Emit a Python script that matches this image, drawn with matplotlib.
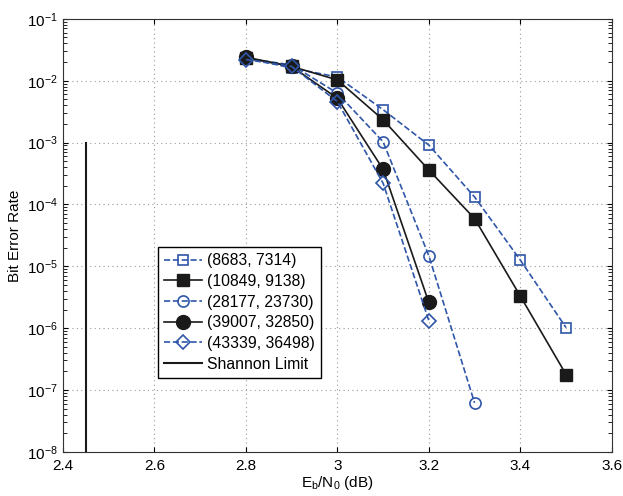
import matplotlib
matplotlib.use('Agg')
from matplotlib import pyplot as plt

plt.rcParams['font.family'] = ['Liberation Sans', 'DejaVu Sans']
plt.rcParams['mathtext.fontset'] = 'custom'
plt.rcParams['mathtext.rm'] = 'Liberation Sans'
plt.rcParams['mathtext.it'] = 'Liberation Sans'

blue = '#2f56a8'

ebn0 = [2.8, 2.9, 3.0, 3.1, 3.2, 3.3, 3.4, 3.5]
ber_8683 = [0.0234, 0.016, 0.0115, 0.0034, 0.00091, 0.000132, 1.26e-5, 1.02e-6]
ber_10849 = [0.0234, 0.017, 0.0103, 0.00234, 0.00036, 5.9e-5, 3.3e-6, 1.78e-7]
ebn0_28177 = [2.8, 2.9, 3.0, 3.1, 3.2, 3.3]
ber_28177 = [0.023, 0.018, 0.0063, 0.00103, 1.48e-5, 6.2e-8]
ebn0_short = [2.8, 2.9, 3.0, 3.1, 3.2]
ber_39007 = [0.024, 0.017, 0.0052, 0.00037, 2.6e-6]
ber_43339 = [0.022, 0.017, 0.0046, 0.00022, 1.32e-6]
shannon_x = [2.45, 2.45]
shannon_y = [1e-8, 1e-3]

fig = plt.figure(figsize=(6.23, 4.96), dpi=100)
ax = fig.add_axes([0.101, 0.089, 0.881, 0.873])

ax.semilogy(ebn0, ber_8683, '--s', color=blue, mfc='none', mec=blue, ms=7, lw=1.2, mew=1.2,
            label='(8683, 7314)')
ax.semilogy(ebn0, ber_10849, '-s', color='#1a1a1a', ms=8, lw=1.2, label='(10849, 9138)')
ax.semilogy(ebn0_28177, ber_28177, '--o', color=blue, mfc='none', mec=blue, ms=8, lw=1.2, mew=1.2,
            label='(28177, 23730)')
ax.semilogy(ebn0_short, ber_39007, '-o', color='#1a1a1a', ms=10, lw=1.2, label='(39007, 32850)')
ax.semilogy(ebn0_short, ber_43339, '--D', color=blue, mfc='none', mec=blue, ms=7, lw=1.2, mew=1.2,
            label='(43339, 36498)')
ax.semilogy(shannon_x, shannon_y, '-', color='#1a1a1a', lw=1.5, label='Shannon Limit')

ax.set_xlim(2.4, 3.6)
ax.set_ylim(1e-8, 1e-1)
ax.set_xticks([2.4, 2.6, 2.8, 3.0, 3.2, 3.4, 3.6])
ax.set_xticklabels(['2.4', '2.6', '2.8', '3', '3.2', '3.4', '3.6'])
ax.grid(True, which='major', linestyle=(0, (1, 3)), color='#999999', lw=0.8)
ax.tick_params(which='both', direction='in', top=True, right=True, labelsize=11)
ax.tick_params(axis='x', pad=5)
ax.tick_params(which='minor', length=3)
for s in ax.spines.values():
    s.set_color('#333333')
ax.set_xlabel('E$_\\mathrm{b}$/N$_\\mathrm{0}$ (dB)', fontsize=11, labelpad=1)
ax.set_ylabel('Bit Error Rate', fontsize=11)

leg = ax.legend(loc='lower left', bbox_to_anchor=(0.173, 0.171), fontsize=11.3, fancybox=False,
                framealpha=1, edgecolor='black', borderaxespad=0, handlelength=2.4,
                labelspacing=0.36, handletextpad=0.3, borderpad=0.4)
leg.get_frame().set_linewidth(1.0)

fig.savefig('out.png', dpi=100)
